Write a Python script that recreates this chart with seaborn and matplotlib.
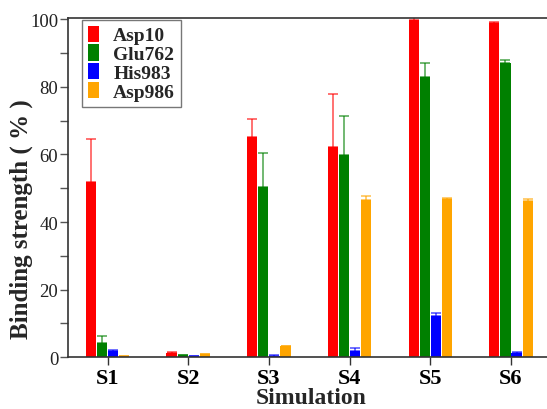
import matplotlib
matplotlib.use('Agg')
import matplotlib.pyplot as plt
import seaborn as sns
import pandas as pd
import numpy as np

sims = ['S1', 'S2', 'S3', 'S4', 'S5', 'S6']
residues = ['Asp10', 'Glu762', 'His983', 'Asp986']
colors = ['#ff0000', '#008000', '#0000ff', '#ffa500']

asp10 = [51.8, 1.4, 65.2, 62.1, 99.8, 98.9]
glu762 = [4.2, 0.6, 50.4, 59.7, 82.8, 87.0]
his983 = [1.8, 0.3, 0.4, 2.0, 12.1, 1.2]
asp986 = [0.4, 0.9, 3.2, 46.5, 46.8, 46.2]

asp10_err = [12.8, 0.2, 5.3, 15.9, 0.8, 0.4]
glu762_err = [2.0, 0.1, 10.1, 11.6, 4.3, 0.8]
his983_err = [0.4, 0.1, 0.2, 0.8, 0.9, 0.3]
asp986_err = [0.1, 0.1, 0.1, 1.3, 0.4, 0.6]

df = pd.DataFrame({
    'Simulation': sims * 4,
    'Residue': np.repeat(residues, len(sims)),
    'Value': asp10 + glu762 + his983 + asp986,
    'Err': asp10_err + glu762_err + his983_err + asp986_err,
})

sns.set_style('ticks')
plt.rcParams['font.family'] = ['Liberation Serif', 'DejaVu Serif']

fig = plt.figure(figsize=(5.47, 4.10), dpi=100)
ax = fig.add_axes([68 / 547, 51.7 / 410, 487 / 547, 339.8 / 410])

sns.barplot(data=df, x='Simulation', y='Value', hue='Residue',
            palette=colors, width=0.55, ax=ax, errorbar=None,
            saturation=1, linewidth=0)

# bars a bit narrower than their slot, error bars only upwards
for cont, col, err in zip(ax.containers, colors,
                          [asp10_err, glu762_err, his983_err, asp986_err]):
    for bar, e in zip(cont, err):
        w = bar.get_width()
        cx = bar.get_x() + w / 2
        bar.set_width(w * 0.92)
        bar.set_x(cx - w * 0.46)
        h = bar.get_height()
        ax.errorbar(cx, h, yerr=[[0], [e]], fmt='none', ecolor=col,
                    elinewidth=1.2, capsize=3.5, capthick=1.2, alpha=0.65)

ax.set_xlim(-0.49, 5.545)
ax.set_ylim(0, 100.5)
ax.set_yticks([0, 20, 40, 60, 80, 100])
ax.set_yticks([10, 30, 50, 70, 90], minor=True)
ax.tick_params(axis='y', which='both', direction='out', length=6, width=1,
               labelsize=13.5, pad=1, colors='#555555', labelcolor='#222222')
ax.tick_params(axis='x', direction='out', length=6, width=1, labelsize=16,
               pad=2, colors='#333333', labelcolor='black')
for lab in ax.get_xticklabels():
    lab.set_fontweight('bold')

ax.set_xlabel('Simulation', fontsize=17, fontweight='bold', labelpad=-1)
ax.set_ylabel('Binding strength ( % )', fontsize=18, fontweight='bold')
ax.yaxis.set_label_coords(-0.072, 0.41)

for s in ax.spines.values():
    s.set_color('#333333')
    s.set_linewidth(1.2)

leg = ax.legend(loc='upper left', bbox_to_anchor=(0.029, 0.993),
                frameon=True, fancybox=False, edgecolor='#555555',
                prop={'size': 14, 'weight': 'bold'},
                handlelength=0.55, handleheight=0.9, handletextpad=0.75,
                labelspacing=0.0, borderpad=0.3, borderaxespad=0.0)
leg.get_frame().set_linewidth(1.0)
leg.set_title(None)

fig.savefig('out.png', dpi=100)
